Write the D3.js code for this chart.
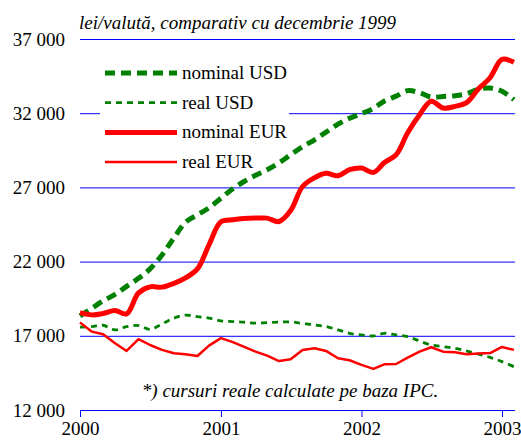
<!DOCTYPE html>
<html>
<head>
<meta charset="utf-8">
<script src="https://cdn.jsdelivr.net/npm/d3@7"></script>
<style>
  body { margin: 0; background: #fff; }
</style>
</head>
<body>
<div id="chart"></div>
<script>
// monthly data, Jan 2000 - Feb 2003 (lei per currency unit)
const months = d3.timeMonth.range(new Date(2000, 0, 1), new Date(2003, 2, 1));

const nominalUSD = [18340, 18860, 19350, 19790, 20330, 20870, 21510, 22450, 23600, 24650, 25150, 25620,
  26270, 26910, 27380, 27820, 28190, 28660, 29200, 29740, 30210, 30720, 31260, 31660,
  31970, 32320, 32810, 33150, 33520, 33380, 33080, 33130, 33180, 33310, 33620, 33700,
  33480, 32910];
const realUSD = [17580, 17620, 17710, 17400, 17620, 17690, 17430, 17800, 18190, 18390, 18290, 18190,
  18000, 17960, 17920, 17850, 17890, 17920, 17940, 17830, 17730, 17620, 17400, 17170,
  17060, 16990, 17170, 17060, 16940, 16650, 16380, 16270, 16160, 15980, 15760, 15550,
  15260, 14920];
const nominalEUR = [18560, 18410, 18500, 18700, 18480, 19890, 20300, 20280, 20530, 20900, 21510, 23130,
  24680, 24820, 24900, 24930, 24930, 24700, 25440, 27060, 27650, 27950, 27780, 28190,
  28300, 28010, 28660, 29200, 30680, 31900, 32810, 32350, 32460, 32710, 33650, 34390,
  35630, 35430];
const realEUR = [17890, 17280, 17110, 16500, 15980, 16770, 16380, 16050, 15820, 15760, 15640, 16340,
  16840, 16570, 16270, 15930, 15660, 15300, 15420, 16050, 16160, 15980, 15490, 15350,
  15040, 14770, 15080, 15100, 15530, 15930, 16230, 15930, 15890, 15760, 15800, 15840,
  16250, 16050];

const yTicks = [12000, 17000, 22000, 27000, 32000, 37000];
const xYears = [2000, 2001, 2002, 2003];

const series = [
  { name: "nominal USD", values: nominalUSD, color: "#008000", width: 5, dash: "10,6", curve: d3.curveCatmullRom },
  { name: "real USD", values: realUSD, color: "#008000", width: 2.8, dash: "6,5", curve: d3.curveCatmullRom },
  { name: "nominal EUR", values: nominalEUR, color: "#ff0000", width: 5, dash: null, curve: d3.curveCatmullRom },
  { name: "real EUR", values: realEUR, color: "#ff0000", width: 2.5, dash: null, curve: d3.curveLinear }
];

const FONT = '"Liberation Serif", "Times New Roman", Times, serif';
const width = 521, height = 443;
const plotL = 80, plotR = 515, plotT = 39, plotB = 410;

const svg = d3.select("#chart").append("svg")
  .attr("width", width)
  .attr("height", height);

const x = d3.scaleTime()
  .domain([new Date(2000, 0, 1), new Date(2003, 0, 1)])
  .range([plotL, 502]);

const y = d3.scaleLinear()
  .domain([12000, 37000])
  .range([plotB, plotT]);

const fmt = d3.formatLocale({ decimal: ",", thousands: " ", grouping: [3], currency: ["", ""] }).format(",");

// horizontal grid + labels
const yAxis = svg.append("g")
  .attr("transform", `translate(${plotL},0)`)
  .call(d3.axisLeft(y).tickValues(yTicks).tickSize(-(plotR - plotL)).tickPadding(15).tickFormat(fmt));
yAxis.select(".domain").remove();
yAxis.selectAll(".tick line").attr("stroke", "#0000ff");
yAxis.selectAll(".tick text")
  .style("font-family", FONT)
  .style("font-size", "19px")
  .attr("fill", "#000");

// x axis
const xAxis = svg.append("g")
  .attr("transform", `translate(0,${plotB})`)
  .call(d3.axisBottom(x).tickValues(xYears.map(yr => new Date(yr, 0, 1))).tickSize(7).tickPadding(5)
    .tickFormat(d3.timeFormat("%Y")));
xAxis.select(".domain").attr("d", `M${plotL},0.5H${plotR}`).attr("stroke", "#0000ff");
xAxis.selectAll(".tick line").attr("stroke", "#0000ff");
xAxis.selectAll(".tick text")
  .style("font-family", FONT)
  .style("font-size", "19px")
  .attr("fill", "#000");

// title
svg.append("text")
  .attr("x", 79)
  .attr("y", 29)
  .style("font-family", FONT)
  .style("font-size", "19px")
  .style("font-style", "italic")
  .text("lei/valută, comparativ cu decembrie 1999");

// legend
svg.append("rect")
  .attr("x", 100).attr("y", 55)
  .attr("width", 189).attr("height", 120)
  .attr("fill", "#fff");

const legend = svg.append("g");
series.forEach((s, i) => {
  const ly = 73 + i * 29.7;
  legend.append("line")
    .attr("x1", 105).attr("x2", 177)
    .attr("y1", ly).attr("y2", ly)
    .attr("stroke", s.color)
    .attr("stroke-width", s.width)
    .attr("stroke-dasharray", s.dash);
  legend.append("text")
    .attr("x", 182)
    .attr("y", ly + 6)
    .style("font-family", FONT)
    .style("font-size", "19px")
    .text(s.name);
});

// lines
series.forEach(s => {
  const line = d3.line()
    .x((d, i) => x(months[i]))
    .y(d => y(d))
    .curve(s.curve);
  svg.append("path")
    .datum(s.values)
    .attr("fill", "none")
    .attr("stroke", s.color)
    .attr("stroke-width", s.width)
    .attr("stroke-dasharray", s.dash)
    .attr("stroke-linejoin", "round")
    .attr("d", line);
});

// footnote
svg.append("text")
  .attr("x", 290)
  .attr("y", 397)
  .attr("text-anchor", "middle")
  .style("font-family", FONT)
  .style("font-size", "19px")
  .style("font-style", "italic")
  .text("*) cursuri reale calculate pe baza IPC.");
</script>
</body>
</html>
